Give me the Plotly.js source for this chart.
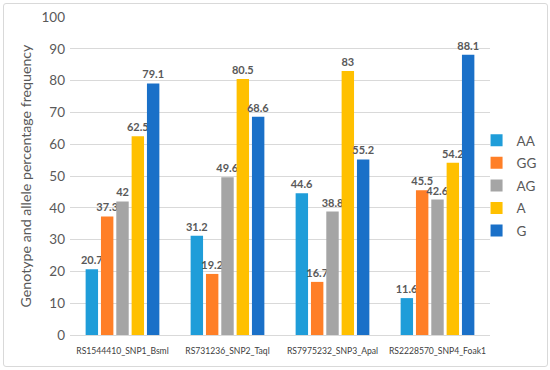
<!DOCTYPE html>
<html>
<head>
<meta charset="utf-8">
<script src="https://cdn.plot.ly/plotly-3.0.1.min.js"></script>
<style>
html,body{margin:0;padding:0;background:#fff;}
#frame{position:absolute;left:3px;top:3px;width:543px;height:362px;border:1px solid #d9d9d9;border-radius:3px;}
#chart{position:absolute;left:0;top:0;width:550px;height:370px;}
</style>
</head>
<body>
<div id="frame"></div>
<div id="chart"></div>
<script>
var categories = ["RS1544410_SNP1_Bsml", "RS731236_SNP2_Taql", "RS7975232_SNP3_Apal", "RS2228570_SNP4_Foak1"];
var seriesNames = ["AA", "GG", "AG", "A", "G"];
var AA = [20.7, 31.2, 44.6, 11.6];
var GG = [37.3, 19.2, 16.7, 45.5];
var AG = [42, 49.6, 38.8, 42.6];
var A = [62.5, 80.5, 83, 54.2];
var G = [79.1, 68.6, 55.2, 88.1];
var colors = ["#1F9DD9", "#FF7F27", "#A5A5A5", "#FFC000", "#1A70C8"];
var yTicks = [0, 10, 20, 30, 40, 50, 60, 70, 80, 90, 100];

var values = [AA, GG, AG, A, G];
var traces = values.map(function(v, i) {
  return {
    type: "bar",
    name: seriesNames[i],
    legendgroup: seriesNames[i],
    x: categories,
    y: v,
    marker: {color: colors[i]},
    text: v.map(String),
    textposition: "outside",
    constraintext: "none",
    cliponaxis: false,
    textfont: {family: "Lato, Liberation Sans, sans-serif", size: 11, color: "#595959", weight: "bold"}
  };
});

var layout = {
  width: 550,
  height: 370,
  paper_bgcolor: "rgba(0,0,0,0)",
  plot_bgcolor: "rgba(0,0,0,0)",
  margin: {l: 70, r: 60, t: 17, b: 35, autoexpand: false},
  barmode: "group",
  bargap: 0.27,
  bargroupgap: 0.19,
  font: {family: "Lato, Liberation Sans, sans-serif", color: "#595959"},
  xaxis: {
    tickfont: {size: 8.6, color: "#404040"},
    tickangle: 0,
    ticklabelstandoff: 8,
    showgrid: false,
    showline: true,
    linecolor: "#d9d9d9",
    linewidth: 1,
    ticks: "",
    automargin: false
  },
  yaxis: {
    range: [0, 100],
    tickvals: yTicks,
    ticktext: yTicks.map(String),
    tickfont: {size: 13.5, color: "#595959"},
    gridcolor: "#d9d9d9",
    gridwidth: 1,
    zeroline: false,
    showline: false,
    ticks: "",
    ticklabelstandoff: 4,
    automargin: false,
    title: {text: "Genotype and allele percentage frequency", font: {size: 14.2, color: "#595959"}, standoff: 6}
  },
  legend: {
    x: 0.968, xanchor: "left",
    y: 0.47, yanchor: "middle",
    font: {size: 13.5, color: "#595959"},
    tracegroupgap: 2,
    itemwidth: 30,
    bgcolor: "rgba(0,0,0,0)"
  },
  showlegend: true
};

Plotly.newPlot("chart", traces, layout, {displayModeBar: false, staticPlot: true});
</script>
</body>
</html>
